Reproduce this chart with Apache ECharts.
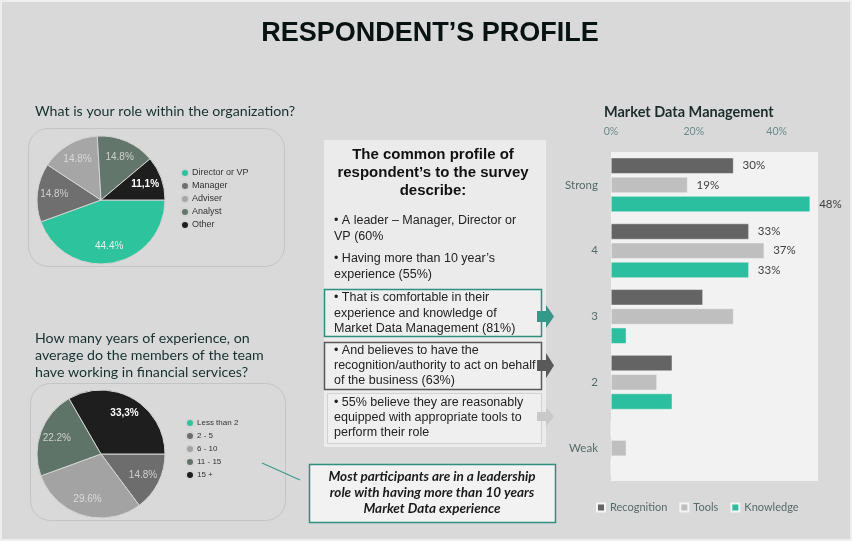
<!DOCTYPE html>
<html><head><meta charset="utf-8">
<script src="https://cdn.jsdelivr.net/npm/echarts@6/dist/echarts.min.js"></script>
<style>html,body{margin:0;padding:0;background:#d9d9d9}#c{width:852px;height:541px}</style>
</head><body><div id="c"></div>
<script>
// ---- data ----
const roleNames = ['Director or VP', 'Manager', 'Adviser', 'Analyst', 'Other'];
const roleValues = [44.4, 14.8, 14.8, 14.8, 11.1];
const roleLabels = ['44.4%', '14.8%', '14.8%', '14.8%', '11,1%'];
const expNames = ['Less than 2', '2 - 5', '6 - 10', '11 - 15', '15 +'];
const expValues = [0, 14.8, 29.6, 22.2, 33.3];
const expLabels = ['', '14.8%', '29.6%', '22.2%', '33,3%'];
const mdmCategories = ['Strong', '4', '3', '2', 'Weak'];
const recognition = [29.6, 33.3, 22.2, 14.8, 0];
const tools = [18.5, 37.0, 29.6, 11.1, 3.7];
const knowledge = [48.1, 33.3, 3.7, 14.8, 0];
const labelledCategories = ['Strong', '4'];

// ---- styles ----
const roleColors = ['#2dc39c', '#6f6f6f', '#a6a6a6', '#63766b', '#1e1e1e'];
const roleLabelColors = ['#e2f3ec', '#cfcfcf', '#d8d8d8', '#cfcfcf', '#ffffff'];
const expColors = ['#2dc39c', '#6d6d6d', '#a3a3a3', '#5f7468', '#1e1e1e'];
const expLabelColors = ['#fff', '#cfcfcf', '#dadada', '#cfcfcf', '#ffffff'];
const barColors = {Recognition: '#646464', Tools: '#bfbfbf', Knowledge: '#2bbf9f'};

const chart = echarts.init(document.getElementById('c'), null, {renderer: 'canvas'});

function pieSeries(names, values, colors, center) {
  return {
    type: 'pie', center: center, radius: [0, 64], startAngle: 0, clockwise: true,
    silent: true, label: {show: false}, labelLine: {show: false},
    itemStyle: {borderColor: '#d4d4d4', borderWidth: 1},
    data: names.map((n, i) => ({name: n, value: values[i], itemStyle: {color: colors[i]}}))
  };
}
function pieLabelSeries(names, values, labels, lcolors, center) {
  return {
    type: 'pie', center: center, radius: [0, 88], startAngle: 0, clockwise: true,
    silent: true, labelLine: {show: false}, z: 5,
    itemStyle: {color: 'rgba(0,0,0,0)'},
    data: names.map((n, i) => ({
      name: n + ' ', value: values[i],
      label: {show: labels[i] !== '', position: 'inside', formatter: labels[i],
        color: lcolors[i], fontSize: 10, fontFamily: 'Liberation Sans',
        fontWeight: labels[i].indexOf(',') >= 0 ? 'bold' : 'normal'}
    }))
  };
}
function barSeries(name, values) {
  return {
    type: 'bar', name: name, barWidth: 16, barGap: '20%', silent: true,
    itemStyle: {color: barColors[name], borderColor: '#f4f4f4', borderWidth: 0.5},
    data: values.map((v, i) => ({
      value: v,
      label: {show: labelledCategories.indexOf(mdmCategories[i]) >= 0}
    })),
    label: {position: 'right', distance: 9, color: '#404040', fontSize: 11.5,
      fontFamily: 'Lato', formatter: p => Math.round(p.value) + '%'}
  };
}

const txt = (x, y, text, font, fill, extra) => ({
  type: 'text', x: x, y: y, silent: true,
  style: Object.assign({text: text, font: font, fill: fill, textVerticalAlign: 'top'}, extra || {})
});

const bodyFont = '12.5px "Liberation Sans"';

const option = {
  backgroundColor: '#d9d9d9',
  animation: false,
  grid: {left: 611, top: 152, width: 207, height: 329, show: true,
    backgroundColor: '#f2f2f2', borderWidth: 0, containLabel: false},
  xAxis: {type: 'value', position: 'top', min: 0, max: 50, interval: 20,
    splitLine: {show: false}, axisLine: {show: false}, axisTick: {show: false},
    axisLabel: {formatter: '{value}%', color: '#6a8a8a', fontSize: 10.5, fontFamily: 'Lato',
      margin: 15, showMaxLabel: false}},
  yAxis: {type: 'category', inverse: true, data: mdmCategories,
    axisLine: {show: false}, axisTick: {show: false},
    axisLabel: {color: '#566a6a', fontSize: 11.5, fontFamily: 'Lato', margin: 13}},
  legend: [
    {data: roleNames, orient: 'vertical', left: 175, top: 163, icon: 'circle',
      itemWidth: 8, itemHeight: 8, itemGap: 3, selectedMode: false,
      textStyle: {fontSize: 9, color: '#333', fontFamily: 'Liberation Sans', padding: [0, 0, 0, -2]}},
    {data: expNames, orient: 'vertical', left: 180, top: 413, icon: 'circle',
      itemWidth: 8, itemHeight: 8, itemGap: 3, selectedMode: false,
      textStyle: {fontSize: 8, color: '#333', fontFamily: 'Liberation Sans', padding: [0, 0, 0, -2]}},
    {data: ['Recognition', 'Tools', 'Knowledge'], left: 591, top: 497, icon: 'rect',
      itemWidth: 8, itemHeight: 8, itemGap: 12, selectedMode: false,
      textStyle: {fontSize: 11, color: '#566a6a', fontFamily: 'Lato'}}
  ],
  series: [
    pieSeries(roleNames, roleValues, roleColors, [101, 200]),
    pieSeries(expNames, expValues, expColors, [101, 454]),
    pieLabelSeries(roleNames, roleValues, roleLabels, roleLabelColors, [101, 200]),
    pieLabelSeries(expNames, expValues, expLabels, expLabelColors, [101, 454]),
    barSeries('Recognition', recognition),
    barSeries('Tools', tools),
    barSeries('Knowledge', knowledge)
  ],
  graphic: [
    {type: 'rect', silent: true, shape: {x: 1, y: 1, width: 850, height: 539},
      style: {fill: 'none', stroke: '#eeeeee', lineWidth: 2}},
    txt(430, 20, 'RESPONDENT’S PROFILE', 'bold 27px "Liberation Sans"', '#081212', {textAlign: 'center'}),
    // pie boxes
    {type: 'rect', silent: true, shape: {x: 28.5, y: 128.5, width: 256, height: 138, r: 20},
      style: {fill: 'none', stroke: '#c4c4c4', lineWidth: 1}},
    {type: 'rect', silent: true, shape: {x: 30.5, y: 383.5, width: 255, height: 137, r: 20},
      style: {fill: 'none', stroke: '#c4c4c4', lineWidth: 1}},
    txt(35, 104, 'What is your role within the organization?', '14.2px Lato', '#163030'),
    txt(35, 330, 'How many years of experience, on\naverage do the members of the team\nhave working in financial services?', '14.2px Lato', '#163030', {lineHeight: 17}),
    // middle panel
    {type: 'rect', silent: true, shape: {x: 324, y: 140, width: 222, height: 307},
      style: {fill: '#ebebeb'}},
    txt(433, 146, 'The common profile of\nrespondent’s to the survey\ndescribe:', 'bold 15px "Liberation Sans"', '#111', {textAlign: 'center', lineHeight: 18}),
    txt(334, 213, '• A leader – Manager, Director or\nVP (60%', bodyFont, '#222', {lineHeight: 16}),
    txt(334, 251, '• Having more than 10 year’s\nexperience (55%)', bodyFont, '#222', {lineHeight: 16}),
    {type: 'rect', silent: true, shape: {x: 324.5, y: 289.5, width: 217, height: 47},
      style: {fill: '#efefef', stroke: '#2f8f80', lineWidth: 1.5}},
    {type: 'rect', silent: true, shape: {x: 324.5, y: 342.5, width: 217, height: 47},
      style: {fill: '#efefef', stroke: '#595959', lineWidth: 1.5}},
    {type: 'rect', silent: true, shape: {x: 327.5, y: 393.5, width: 214, height: 50},
      style: {fill: '#efefef', stroke: '#d2d2d2', lineWidth: 1}},
    txt(334, 290, '• That is comfortable in their\nexperience and knowledge of\nMarket Data Management (81%)', bodyFont, '#222', {lineHeight: 15.5}),
    txt(334, 343, '• And believes to have the\nrecognition/authority to act on behalf\nof the business (63%)', bodyFont, '#222', {lineHeight: 15}),
    txt(334, 395, '• 55% believe they are reasonably\nequipped with appropriate tools to\nperform their role', bodyFont, '#222', {lineHeight: 15}),
    {type: 'polygon', silent: true, z: 10, shape: {points: [[537, 311], [546, 311], [546, 305], [554, 316.5], [546, 328], [546, 322], [537, 322]]},
      style: {fill: '#339988'}},
    {type: 'polygon', silent: true, z: 10, shape: {points: [[537, 360], [546, 360], [546, 353], [554, 365.5], [546, 378], [546, 371], [537, 371]]},
      style: {fill: '#595959'}},
    {type: 'polygon', silent: true, z: 10, shape: {points: [[537, 412], [546, 412], [546, 407], [554, 416.5], [546, 426], [546, 421], [537, 421]]},
      style: {fill: '#c9c9c9'}},
    // callout
    {type: 'line', silent: true, shape: {x1: 262, y1: 463, x2: 300, y2: 480},
      style: {stroke: '#3a9a8a', lineWidth: 1.2}},
    {type: 'rect', silent: true, shape: {x: 309.5, y: 464.5, width: 246, height: 58},
      style: {fill: '#f2f2f2', stroke: '#2f8f80', lineWidth: 1.5}},
    txt(432, 469, 'Most participants are in a leadership\nrole with having more than 10 years\nMarket Data experience', 'italic bold 13.5px Lato', '#1a1a1a', {textAlign: 'center', lineHeight: 16}),
    // bar chart title
    txt(604, 105, 'Market Data Management', 'bold 14.5px Lato', '#1c2c2c')
  ]
};
chart.setOption(option);
</script></body></html>
